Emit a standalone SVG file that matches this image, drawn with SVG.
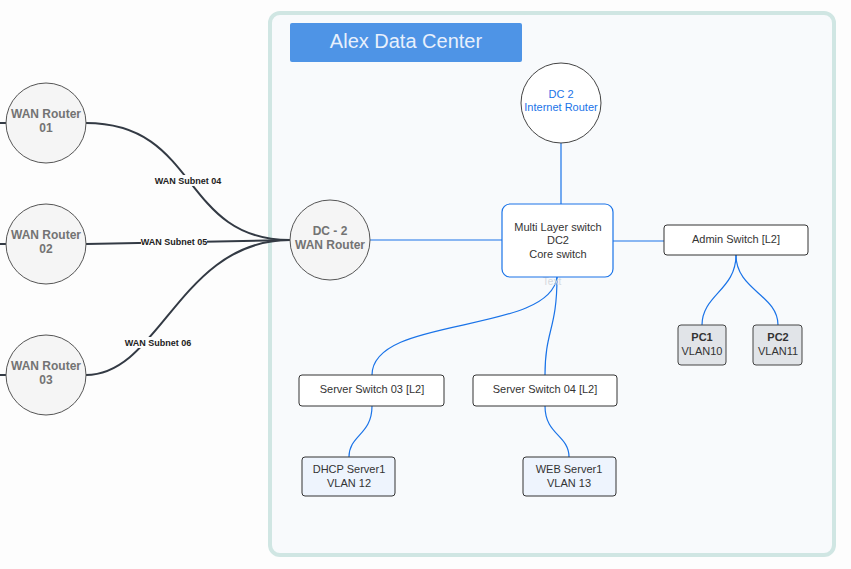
<svg xmlns="http://www.w3.org/2000/svg" width="851" height="569" viewBox="0 0 851 569">
<style>
text{font-family:"Liberation Sans",Arial,sans-serif;}
.wan{fill:#f5f5f5;stroke:#555;stroke-width:1;}
.wt{font-size:12px;font-weight:bold;fill:#737373;text-anchor:middle;}
.dk{fill:none;stroke:#333a44;stroke-width:2;}
.bl{fill:none;stroke:#1a73e8;stroke-width:1.2;}
.box{fill:#fff;stroke:#333;stroke-width:1;}
.t{font-size:11px;fill:#333;text-anchor:middle;}
.lbl{font-size:9px;font-weight:bold;fill:#222;text-anchor:middle;}
.pc{fill:#e1e4e8;stroke:#444;stroke-width:1;}
.srv{fill:#eef4fd;stroke:#333;stroke-width:1;}
</style>
<rect width="851" height="569" fill="#fdfdfd"/>
<g id="container">
<rect x="270" y="13" width="564" height="542" rx="10" fill="#f8fafc" stroke="#d0e6e3" stroke-width="4"/>
<rect x="290" y="23" width="232" height="39" rx="2" fill="#4e94e6"/>
<text x="406" y="48" font-size="20" fill="#e8f0fc" text-anchor="middle">Alex Data Center</text>
</g>
<g id="connectors">
<line x1="0" y1="123" x2="6" y2="123" class="dk"/>
<line x1="0" y1="244" x2="6" y2="244" class="dk"/>
<line x1="0" y1="375" x2="6" y2="375" class="dk"/>
<path class="dk" d="M86,123 C200,123 180,240 290,240"/>
<path class="dk" d="M86,244 L290,240"/>
<path class="dk" d="M86,375 C160,375 180,240 290,240"/>
<rect x="153" y="175" width="70" height="11" fill="#fdfdfd"/>
<text class="lbl" x="188" y="184">WAN Subnet 04</text>
<rect x="141" y="236" width="66" height="11" fill="#fdfdfd"/>
<text class="lbl" x="174" y="245">WAN Subnet 05</text>
<rect x="124" y="337" width="68" height="11" fill="#fdfdfd"/>
<text class="lbl" x="158" y="346">WAN Subnet 06</text>
<line class="bl" x1="370" y1="240" x2="502" y2="240"/>
<line class="bl" x1="561" y1="143" x2="561" y2="204"/>
<line class="bl" x1="613" y1="241" x2="664" y2="241"/>
<path class="bl" d="M736,255 C736,290 702,295 702,325"/>
<path class="bl" d="M736,255 C736,290 778,295 778,325"/>
<path class="bl" d="M557,277 C550,335 372,315 372,375"/>
<path class="bl" d="M557,277 C557,330 545,330 545,375"/>
<path class="bl" d="M372,406 C372,435 349,435 349,457"/>
<path class="bl" d="M545,406 C545,435 569,435 569,457"/>
<text x="552" y="285" font-size="10" fill="#d5d8dc" text-anchor="middle">Text</text>
</g>
<g id="wan-router-01">
<circle class="wan" cx="46" cy="123" r="40"/>
<text class="wt" x="46" y="118">WAN Router</text>
<text class="wt" x="46" y="132">01</text>
</g>
<g id="wan-router-02">
<circle class="wan" cx="46" cy="244" r="40"/>
<text class="wt" x="46" y="239">WAN Router</text>
<text class="wt" x="46" y="253">02</text>
</g>
<g id="wan-router-03">
<circle class="wan" cx="46" cy="375" r="40"/>
<text class="wt" x="46" y="370">WAN Router</text>
<text class="wt" x="46" y="384">03</text>
</g>
<g id="dc2-wan-router">
<circle class="wan" cx="330" cy="240" r="40"/>
<text class="wt" x="330" y="235">DC - 2</text>
<text class="wt" x="330" y="249">WAN Router</text>
</g>
<g id="dc2-internet-router">
<circle cx="561" cy="103" r="40" fill="#fff" stroke="#444" stroke-width="1"/>
<text x="561" y="98" font-size="11" fill="#1a73e8" text-anchor="middle">DC 2</text>
<text x="561" y="111" font-size="11" fill="#1a73e8" text-anchor="middle">Internet Router</text>
</g>
<g id="multilayer-switch">
<rect x="502" y="204" width="111" height="73" rx="8" fill="#fff" stroke="#1a73e8" stroke-width="1.2"/>
<text class="t" x="558" y="231">Multi Layer switch</text>
<text class="t" x="558" y="244">DC2</text>
<text class="t" x="558" y="258">Core switch</text>
</g>
<g id="admin-switch">
<rect class="box" x="664" y="225" width="144" height="30" rx="3"/>
<text class="t" x="736" y="243">Admin Switch [L2]</text>
</g>
<g id="pc1">
<rect class="pc" x="678" y="325" width="48" height="40" rx="3"/>
<text class="t" x="702" y="341" font-weight="bold">PC1</text>
<text class="t" x="702" y="355">VLAN10</text>
</g>
<g id="pc2">
<rect class="pc" x="753" y="325" width="49" height="40" rx="3"/>
<text class="t" x="778" y="341" font-weight="bold">PC2</text>
<text class="t" x="778" y="355">VLAN11</text>
</g>
<g id="server-switch-03">
<rect class="box" x="299" y="375" width="145" height="31" rx="3"/>
<text class="t" x="372" y="393">Server Switch 03 [L2]</text>
</g>
<g id="server-switch-04">
<rect class="box" x="473" y="375" width="144" height="31" rx="3"/>
<text class="t" x="545" y="393">Server Switch 04 [L2]</text>
</g>
<g id="dhcp-server1">
<rect class="srv" x="302" y="457" width="93" height="39" rx="3"/>
<text class="t" x="349" y="473">DHCP Server1</text>
<text class="t" x="349" y="487">VLAN 12</text>
</g>
<g id="web-server1">
<rect class="srv" x="523" y="457" width="93" height="39" rx="3"/>
<text class="t" x="569" y="473">WEB Server1</text>
<text class="t" x="569" y="487">VLAN 13</text>
</g>
</svg>
